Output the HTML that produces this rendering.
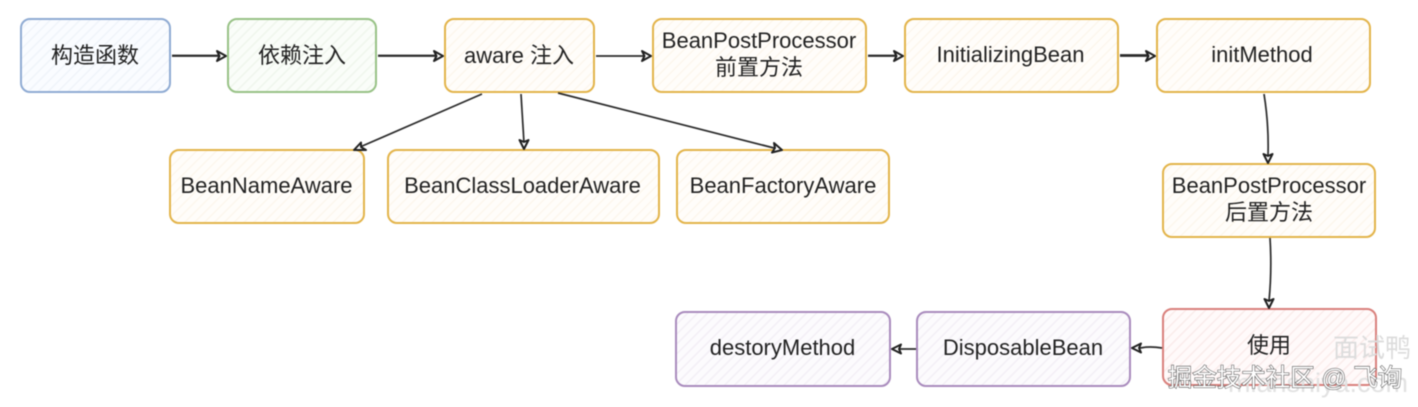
<!DOCTYPE html>
<html><head><meta charset="utf-8"><style>
html,body{margin:0;padding:0;background:#fff;width:1418px;height:407px;overflow:hidden}
svg{display:block;filter:blur(.4px)}
text{font-family:"Liberation Sans","Noto Sans CJK SC",sans-serif;font-size:22px;fill:#222;text-anchor:middle}
.n{stroke-width:2;stroke-linejoin:round}
.a{stroke:#2a2a2a;stroke-width:1.7;fill:none}
.h{fill:#fff;stroke:#222;stroke-width:2;stroke-linejoin:round}
</style></head><body>
<svg width="1418" height="407" viewBox="0 0 1418 407" xmlns="http://www.w3.org/2000/svg">
<defs>
<pattern id="pb" width="7" height="7" patternUnits="userSpaceOnUse" patternTransform="rotate(45)"><rect width="7" height="7" fill="#fafcff"/><rect width="1.500" height="7" fill="#f0f4fa"/></pattern>
<pattern id="pg" width="7" height="7" patternUnits="userSpaceOnUse" patternTransform="rotate(45)"><rect width="7" height="7" fill="#fafdf9"/><rect width="1.500" height="7" fill="#eff6ec"/></pattern>
<pattern id="py" width="7" height="7" patternUnits="userSpaceOnUse" patternTransform="rotate(45)"><rect width="7" height="7" fill="#fffdfa"/><rect width="1.500" height="7" fill="#fdf7ed"/></pattern>
<pattern id="pr" width="7" height="7" patternUnits="userSpaceOnUse" patternTransform="rotate(45)"><rect width="7" height="7" fill="#fffafa"/><rect width="1.500" height="7" fill="#fbeceb"/></pattern>
<pattern id="pp" width="7" height="7" patternUnits="userSpaceOnUse" patternTransform="rotate(45)"><rect width="7" height="7" fill="#fcfbfd"/><rect width="1.500" height="7" fill="#f3eff6"/></pattern>
</defs>

<g class="n" stroke="#8fabd3"><rect x="21" y="19" width="149" height="73" rx="9" fill="url(#pb)"/></g>
<g class="n" stroke="#98c286"><rect x="228" y="19" width="148" height="73" rx="9" fill="url(#pg)"/></g>
<g class="n" stroke="#e3b44a" fill="url(#py)">
<rect x="445" y="19" width="149" height="73" rx="9"/>
<rect x="653" y="19" width="213" height="73" rx="9"/>
<rect x="905" y="19" width="213" height="73" rx="9"/>
<rect x="1157" y="19" width="213" height="73" rx="9"/>
<rect x="170" y="150" width="194" height="73" rx="9"/>
<rect x="388" y="150" width="271" height="73" rx="9"/>
<rect x="677" y="150" width="212" height="73" rx="9"/>
<rect x="1163" y="164" width="212" height="73" rx="9"/>
</g>
<g class="n" stroke="#d9807c"><rect x="1163" y="309" width="213" height="76" rx="9" fill="url(#pr)"/></g>
<g class="n" stroke="#a98bbd" fill="url(#pp)">
<rect x="676" y="312" width="214" height="74" rx="9"/>
<rect x="917" y="312" width="213" height="74" rx="9"/>
</g>

<g class="a">
<path d="M172 56H222M172 55.500H220"/>
<path d="M378 56H439M378 55.500H438"/>
<line x1="596" y1="56" x2="647" y2="56"/>
<path d="M868 56H899M868 55.500H897"/>
<path d="M1120 56H1150M1120 55H1149"/>
<path d="M482 94L360 147"/>
<path d="M521 94L524 143"/>
<path d="M558 93L774 148"/>
<path d="M1264 94Q1269 125 1268 156"/>
<path d="M1270 238Q1272 270 1269 301"/>
<path d="M1162 348Q1150 346 1140 348"/>
<line x1="916" y1="349" x2="899" y2="349"/>
</g>
<g class="h">
<path d="M217 51L226 56L217 61L219.500 56Z"/>
<path d="M434 51L443 56L434 61L436.500 56Z"/>
<path d="M642 51L651 56L642 61L644.500 56Z"/>
<path d="M894 51L903 56L894 61L896.500 56Z"/>
<path d="M1146 51L1155 56L1146 61L1148.500 56Z"/>
<path d="M354 150L361 142.500L361 147L366 150Z"/>
<path d="M524 149L519.500 140L524 142L528.500 140Z"/>
<path d="M782 150L772 152.500L775 148L774 143Z"/>
<path d="M1268 163L1263.500 154L1268 156L1272.500 154Z"/>
<path d="M1269 308L1264.500 299L1269 301L1273.500 299Z"/>
<path d="M1132 348L1141 343.500L1139 348L1141 352.500Z"/>
<path d="M892 349L901 344.500L899 349L901 353.500Z"/>
</g>

<text x="95" y="63">构造函数</text>
<text x="302" y="63">依赖注入</text>
<text x="519" y="63">aware 注入</text>
<text x="759" y="48">BeanPostProcessor</text>
<text x="759" y="75">前置方法</text>
<text x="1010.500" y="62">InitializingBean</text>
<text x="1262" y="62">initMethod</text>
<text x="266.500" y="193">BeanNameAware</text>
<text x="522.500" y="193">BeanClassLoaderAware</text>
<text x="783" y="193">BeanFactoryAware</text>
<text x="1269" y="193">BeanPostProcessor</text>
<text x="1269" y="220">后置方法</text>
<text x="1269" y="353">使用</text>
<text x="1023" y="355">DisposableBean</text>
<text x="782.500" y="355">destoryMethod</text>

<text x="1372" y="357" style="font-size:26px;fill:#dcdcdc">面试鸭</text>
<text x="1318" y="392" style="font-size:27px;fill:#e2e2e2">mianshiya.com</text>
<text x="1285" y="386" style="font-size:24.500px;fill:#fff;stroke:#555;stroke-width:1.1;paint-order:stroke">掘金技术社区 @ 飞询</text>
</svg>
</body></html>
